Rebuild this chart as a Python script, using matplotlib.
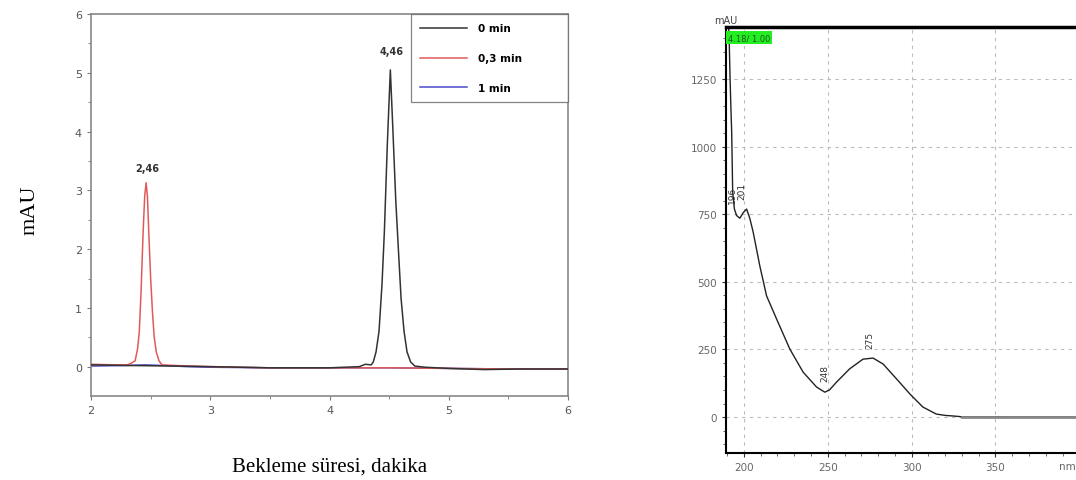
import matplotlib.pyplot as plt

# Left panel: chromatograms (retention time in min, signal in mAU)
t_0min = [2.0, 2.3, 2.7, 3.0, 3.5, 4.0, 4.25, 4.3, 4.35, 4.367, 4.39, 4.415, 4.44, 4.46, 4.485,
          4.51, 4.53, 4.555, 4.58, 4.6, 4.625, 4.65, 4.68, 4.715, 4.8, 5.0, 5.3, 5.6, 6.0]
y_0min = [0.03, 0.02, 0.01, 0.0, -0.02, -0.02, 0.0, 0.04, 0.03, 0.08, 0.25, 0.6, 1.4, 2.3, 3.8,
          5.05, 4.1, 2.85, 1.9, 1.16, 0.6, 0.25, 0.08, 0.01, -0.01, -0.03, -0.05, -0.04, -0.04]

t_03min = [2.0, 2.2, 2.3, 2.33, 2.37, 2.39, 2.405, 2.42, 2.437, 2.45, 2.462, 2.473, 2.484,
           2.5, 2.516, 2.53, 2.547, 2.57, 2.595, 2.7, 3.0, 3.5, 4.0, 4.5, 5.0, 5.5, 6.0]
y_03min = [0.04, 0.03, 0.03, 0.05, 0.1, 0.3, 0.6, 1.3, 2.3, 2.9, 3.13, 2.9, 2.3,
           1.5, 0.9, 0.5, 0.25, 0.1, 0.03, 0.02, 0.0, -0.02, -0.02, -0.02, -0.03, -0.04, -0.04]

t_1min = [2.0, 2.3, 2.45, 2.6, 2.8, 3.0, 3.5, 4.0, 4.5, 5.0, 5.5, 6.0]
y_1min = [0.01, 0.02, 0.03, 0.02, 0.0, -0.01, -0.02, -0.02, -0.02, -0.03, -0.04, -0.04]

peak_labels = [(2.47, 3.38, '2,46'), (4.52, 5.37, '4,46')]

# Right panel: UV spectrum (nm, mAU)
wl = [190.5, 191.2, 191.7, 192.2, 192.7, 193.3, 194.3, 195.6, 197.6, 199.5, 201.6, 203.5, 205.5,
      209.5, 213.5, 219.5, 227.4, 235.3, 243.3, 248.2, 251.0, 255.2, 263.0, 271.0, 277.0,
      283.0, 291.0, 299.0, 306.7, 314.7, 320.0, 324.6, 330.0, 398.0]
absorb = [1500, 1400, 1261, 1150, 1054, 832, 770, 745, 735, 755, 769, 735, 684,
          558, 448, 362, 251, 166, 111, 92, 100, 129, 178, 214, 218,
          196, 141, 85, 37, 11, 6, 4, 1, 0]
spec_labels = [(193.3, 790, '196'), (199.0, 805, '201'), (248.0, 135, '248'), (275.0, 255, '275')]

fig = plt.figure(figsize=(10.76, 4.81), dpi=100)

ax = fig.add_axes([0.0846, 0.1746, 0.4433, 0.794])
ax.plot(t_03min, y_03min, color='#e05a5a', lw=1.1, label='0,3 min', zorder=3)
ax.plot(t_0min, y_0min, color='#333333', lw=1.1, label='0 min', zorder=4)
ax.plot(t_1min, y_1min, color='#4a4acc', lw=1.1, label='1 min', zorder=2)
for x, y, s in peak_labels:
    ax.text(x, y, s, ha='center', va='center', fontsize=7, fontweight='bold', color='#333333')
ax.set_xlim(2, 6)
ax.set_ylim(-0.5, 6)
ax.set_xticks([2, 3, 4, 5, 6])
ax.set_yticks([0, 1, 2, 3, 4, 5, 6])
ax.set_xticks([2.5, 3.5, 4.5, 5.5], minor=True)
ax.set_yticks([0.5, 1.5, 2.5, 3.5, 4.5, 5.5], minor=True)
ax.tick_params(labelsize=8, labelcolor='#555555', color='#777777', length=3)
ax.tick_params(which='minor', color='#777777', length=2)
for sp in ax.spines.values():
    sp.set_color('#888888')
    sp.set_linewidth(1.2)
h, l = ax.get_legend_handles_labels()
order = [1, 0, 2]
leg = ax.legend([h[i] for i in order], [l[i] for i in order], loc='upper left',
                bbox_to_anchor=(0.671, 1.0, 0.329, 0), mode='expand', fancybox=False,
                edgecolor='#666666', prop={'size': 7.5, 'weight': 'bold'}, labelspacing=1.9,
                handlelength=4.5, borderpad=0.9, borderaxespad=0, handletextpad=1.0)
leg.get_frame().set_linewidth(0.9)
fig.text(30 / 1076, 1 - 210 / 481, 'mAU', rotation=90, ha='center', va='center',
         fontsize=16, family='Liberation Serif')
fig.text(330 / 1076, 1 - 467 / 481, 'Bekleme süresi, dakika', ha='center', va='center',
         fontsize=15, family='Liberation Serif')

ax2 = fig.add_axes([0.6747, 0.0561, 0.3253, 0.8857])
ax2.plot(wl, absorb, color='#222222', lw=1.0)
ax2.plot([330, 398], [0, 0], color='#888888', lw=2.0)
for x, y, s in spec_labels:
    ax2.text(x, y, s, rotation=90, ha='center', va='bottom', fontsize=6.5, color='#333333')
ax2.set_xlim(189.3, 398)
ax2.set_ylim(-133, 1442)
ax2.set_xticks([200, 250, 300, 350])
ax2.set_yticks([0, 250, 500, 750, 1000, 1250])
ax2.set_xticks(range(190, 400, 10), minor=True)
ax2.set_yticks(range(-100, 1450, 50), minor=True)
ax2.grid(True, which='major', color='#bbbbbb', linestyle=(0, (3, 4)), lw=0.8)
ax2.tick_params(labelsize=7.5, labelcolor='#666666', color='#333333', length=3)
ax2.tick_params(which='minor', length=2, color='#555555')
ax2.spines['right'].set_visible(False)
ax2.spines['top'].set_linewidth(2.5)
ax2.spines['left'].set_linewidth(1.5)
ax2.spines['bottom'].set_linewidth(1.5)
ax2.text(393, -182, 'nm', ha='center', va='center', fontsize=7.5, color='#666666')
ax2.text(-0.035, 1.005, 'mAU', transform=ax2.transAxes, fontsize=7, color='#444444',
         ha='left', va='bottom')
ax2.text(0.005, 0.985, '4.18/ 1.00', transform=ax2.transAxes, fontsize=6, color='#225522',
         ha='left', va='top', bbox=dict(facecolor='#22ee22', edgecolor='none', pad=1.5))

fig.savefig('out.png', dpi=100)
